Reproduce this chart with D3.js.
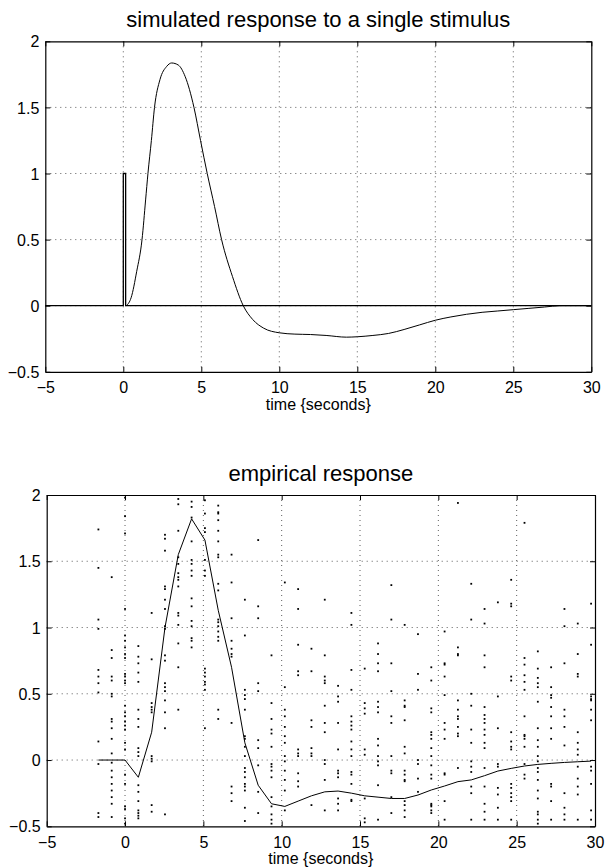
<!DOCTYPE html>
<html>
<head>
<meta charset="utf-8">
<script src="https://cdn.jsdelivr.net/npm/d3@7"></script>
<style>
  body { margin: 0; background: #fff; }
  text { font-family: "Liberation Sans", Arial, Helvetica, sans-serif; fill: #000; }
</style>
</head>
<body>
<div id="chart"></div>
<script>
// axis ticks shared by both panels
const xTicks = [-5, 0, 5, 10, 15, 20, 25, 30];
const yTicks = [-0.5, 0, 0.5, 1, 1.5, 2];

// top panel: stimulus (narrow box at t = 0) and simulated response
const stimTime = [-5, 0, 0, 0.15, 0.15, 30];
const stimValue = [0, 0, 1, 1, 0, 0];
const hrfTime = [0.2, 0.5, 0.86, 1.2, 1.43, 1.58, 1.8, 2.0, 2.35, 2.78, 3.1, 3.53, 3.96, 4.53, 4.95, 5.38,
  5.85, 6.3, 7.0, 7.69, 8.3, 9.0, 10, 11, 12, 13, 14.3, 15, 16, 17, 18, 19, 20, 21, 22, 23, 24, 25, 26, 27, 28, 30];
const hrfValue = [0, 0.06, 0.26, 0.5, 0.8, 1.0, 1.25, 1.5, 1.71, 1.81, 1.836, 1.82, 1.735, 1.5, 1.25, 1.0,
  0.75, 0.5, 0.22, 0, -0.105, -0.17, -0.205, -0.215, -0.218, -0.225, -0.238, -0.235, -0.225, -0.21, -0.18,
  -0.145, -0.11, -0.085, -0.065, -0.05, -0.04, -0.03, -0.02, -0.01, 0, 0];

// bottom panel: sample times, mean response and individual samples per time
const sampleTime = [-1.70, -0.85, 0.00, 0.85, 1.70, 2.55, 3.40, 4.25, 5.10, 5.95, 6.80, 7.65, 8.50, 9.35,
  10.20, 11.05, 11.90, 12.75, 13.60, 14.45, 15.30, 16.15, 17.00, 17.85, 18.70, 19.55, 20.40, 21.25, 22.10,
  22.95, 23.80, 24.65, 25.50, 26.35, 27.20, 28.05, 28.90, 29.75];
const meanValue = [0, 0, 0, -0.13, 0.21, 1.00, 1.55, 1.82, 1.66, 1.13, 0.70, 0.13, -0.19, -0.33,
  -0.35, -0.31, -0.27, -0.24, -0.234, -0.25, -0.27, -0.28, -0.29, -0.29, -0.264, -0.226, -0.196, -0.163, -0.15,
  -0.118, -0.083, -0.063, -0.045, -0.033, -0.025, -0.018, -0.013, -0.008];
const sampleValues = [
  [1.74, 1.45, 1.06, 0.99, 0.68, 0.63, 0.58, 0.51, 0.14, -0.03, -0.40, -0.43],
  [1.38, 0.83, 0.77, 0.63, 0.60, 0.50, 0.48, 0.31, 0.29, 0.24, 0.16, 0.05, -0.02, -0.08, -0.13, -0.18, -0.23, -0.28, -0.33, -0.43],
  [1.98, 1.84, 1.71, 1.14, 0.94, 0.90, 0.85, 0.80, 0.77, 0.65, 0.63, 0.60, 0.58, 0.41, 0.36, 0.33, 0.29, 0.26, 0.23, 0.13, 0.08, -0.11, -0.18, -0.35, -0.37, -0.44, -0.48],
  [0.86, 0.78, 0.73, 0.66, 0.59, 0.38, 0.31, 0.25, 0.09, 0.06, 0.03, -0.19, -0.24, -0.31, -0.38, -0.40, -0.42, -0.44],
  [1.11, 0.76, 0.43, 0.40, 0.38, 0.36, 0.03, 0.01, -0.01, -0.34, -0.39],
  [1.70, 1.67, 1.58, 1.31, 1.29, 1.21, 1.14, 1.01, 0.99, 0.79, 0.75, 0.58, 0.55, 0.52, 0.45, 0.36, 0.24, -0.41],
  [1.97, 1.93, 1.73, 1.53, 1.48, 1.41, 1.38, 1.36, 1.31, 1.11, 1.09, 1.02, 0.88, 0.70, 0.38],
  [1.95, 1.91, 1.83, 1.65, 1.51, 1.48, 1.43, 1.39, 1.22, 1.16, 1.05, 1.01, 0.92, 0.90, 0.85],
  [1.96, 1.86, 1.75, 1.72, 1.51, 1.43, 1.39, 0.69, 0.66, 0.63, 0.59, 0.57, 0.53, 0.24],
  [1.92, 1.87, 1.86, 1.81, 1.73, 1.65, 1.55, 1.53, 1.33, 1.28, 1.06, 1.04, 1.01, 0.97, 0.93, 0.90, 0.38, 0.31],
  [1.55, 1.34, 1.07, 0.90, 0.84, 0.80, 0.78, 0.28, -0.20, -0.25, -0.31],
  [1.21, 0.94, 0.53, 0.49, 0.46, 0.38, 0.18, 0.16, 0.10, 0.03, -0.06, -0.09, -0.13, -0.18, -0.20, -0.23, -0.36, -0.46],
  [1.66, 1.16, 1.07, 0.58, 0.52, 0.15, 0.09, -0.04, -0.24, -0.40],
  [0.79, 0.43, 0.31, 0.23, 0.20, 0.10, -0.03, -0.05, -0.08, -0.13, -0.28, -0.35, -0.41, -0.45, -0.48],
  [1.34, 0.55, 0.38, 0.33, 0.25, 0.18, 0.13, 0.03, -0.01, -0.08, -0.15, -0.23, -0.38],
  [1.29, 1.14, 0.87, 0.67, 0.64, 0.08, 0.05, 0.03, -0.10, -0.16, -0.20],
  [0.84, 0.67, 0.30, 0.25, 0.09, 0.05, 0.03, -0.34],
  [1.21, 0.79, 0.63, 0.60, 0.58, 0.41, 0.28, 0.21, 0.00, -0.03, -0.15, -0.38],
  [0.56, 0.48, 0.44, 0.28, 0.08, -0.08, -0.10, -0.13, -0.29, -0.33, -0.38],
  [1.11, 1.02, 0.68, 0.53, 0.33, 0.29, 0.26, 0.23, 0.14, 0.08, 0.03, -0.09, -0.11, -0.18, -0.30, -0.31],
  [0.69, 0.43, 0.39, 0.35, 0.08, 0.04, -0.29, -0.44, -0.47],
  [0.88, 0.80, 0.73, 0.67, 0.44, 0.40, 0.36, 0.16, 0.11, 0.03, -0.01, -0.04, -0.19, -0.45],
  [1.32, 1.06, 0.73, 0.52, 0.33, 0.28, 0.03, -0.08, -0.10, -0.28, -0.40],
  [1.02, 0.45, 0.41, 0.40, 0.30, 0.10, 0.05, -0.08, -0.11, -0.15, -0.16, -0.31, -0.34, -0.38, -0.43],
  [0.95, 0.65, 0.53, 0.00, -0.03, -0.14, -0.24],
  [0.70, 0.60, 0.39, 0.36, 0.21, 0.19, 0.16, 0.09, 0.03, -0.04, -0.11, -0.14, -0.33, -0.34, -0.35, -0.38, -0.40],
  [0.97, 0.73, 0.72, 0.63, 0.49, 0.28, 0.23, 0.16, -0.10, -0.11, -0.31, -0.45],
  [1.94, 0.85, 0.80, 0.79, 0.45, 0.38, 0.33, 0.31, 0.25, 0.20, 0.18, -0.06],
  [1.33, 1.06, 0.50, 0.41, 0.23, 0.13, -0.01, -0.05, -0.09, -0.20, -0.25, -0.45],
  [1.14, 1.03, 0.79, 0.70, 0.40, 0.34, 0.31, 0.28, 0.23, 0.19, 0.13, 0.09, -0.06, -0.20, -0.33, -0.39, -0.45],
  [1.19, 0.48, 0.24, -0.03, -0.05, -0.21, -0.26, -0.36, -0.45],
  [1.36, 1.18, 1.16, 0.63, 0.60, 0.21, 0.14, 0.10, 0.08, -0.18, -0.21, -0.25, -0.28, -0.31, -0.45],
  [1.79, 0.77, 0.72, 0.64, 0.59, 0.53, 0.33, 0.19, 0.18, 0.16, 0.10, -0.03, -0.11, -0.14],
  [0.82, 0.69, 0.62, 0.58, 0.55, 0.44, 0.24, 0.15, 0.10, 0.03, -0.01, -0.06, -0.09, -0.15, -0.23, -0.29, -0.39, -0.41, -0.45, -0.48],
  [0.70, 0.55, 0.49, 0.47, 0.40, 0.33, 0.24, 0.16, -0.18, -0.20, -0.31, -0.45],
  [1.14, 1.01, 0.73, 0.38, 0.33, 0.25, 0.11, -0.25, -0.36, -0.41, -0.45],
  [1.03, 0.80, 0.65, 0.63, 0.21, 0.13, 0.08, 0.04, -0.05, -0.14, -0.20, -0.26, -0.45],
  [1.18, 0.87, 0.48, 0.46, 0.45, 0.38, 0.30, -0.05, -0.08, -0.18, -0.38, -0.45]
];

const width = 605, height = 867;
const svg = d3.select("#chart").append("svg")
  .attr("width", width)
  .attr("height", height);

const fmt = d => d3.format("")(d).replace("-", "\u2212");

// draw a MATLAB-like axes box with dotted grid and inward ticks
function panel(box, title, xlabel) {
  const x = d3.scaleLinear().domain([-5, 30]).range([box.left, box.right]);
  const y = d3.scaleLinear().domain([-0.5, 2]).range([box.bottom, box.top]);
  const g = svg.append("g");

  // grid
  g.append("g").selectAll("line").data(xTicks.slice(1, -1)).join("line")
    .attr("x1", d => x(d)).attr("x2", d => x(d))
    .attr("y1", box.top).attr("y2", box.bottom)
    .attr("stroke", "#333").attr("stroke-width", 0.8).attr("stroke-dasharray", "1,4");
  g.append("g").selectAll("line").data(yTicks.slice(1, -1)).join("line")
    .attr("y1", d => y(d)).attr("y2", d => y(d))
    .attr("x1", box.left).attr("x2", box.right)
    .attr("stroke", "#333").attr("stroke-width", 0.8).attr("stroke-dasharray", "1,4");

  // axes with inward ticks on all four sides
  const axB = g.append("g").attr("transform", `translate(0,${box.bottom})`)
    .call(d3.axisBottom(x).tickValues(xTicks).tickSizeInner(-5).tickSizeOuter(0).tickPadding(9).tickFormat(fmt));
  const axL = g.append("g").attr("transform", `translate(${box.left},0)`)
    .call(d3.axisLeft(y).tickValues(yTicks).tickSizeInner(-5).tickSizeOuter(0).tickPadding(9).tickFormat(fmt));
  g.append("g").attr("transform", `translate(0,${box.top})`)
    .call(d3.axisTop(x).tickValues(xTicks).tickSizeInner(-5).tickSizeOuter(0).tickFormat(""));
  g.append("g").attr("transform", `translate(${box.right},0)`)
    .call(d3.axisRight(y).tickValues(yTicks).tickSizeInner(-5).tickSizeOuter(0).tickFormat(""));
  g.selectAll(".domain").attr("stroke", "#000").attr("stroke-width", 1.2);
  g.selectAll(".tick line").attr("stroke", "#000");
  g.selectAll(".tick text").style("font-size", "16px").style("font-family", "'Liberation Sans', Arial, sans-serif");
  axL.selectAll(".tick text").attr("x", -6).attr("dy", "0.35em");
  axB.selectAll(".tick text").attr("y", 10);

  g.append("text").attr("x", (box.left + box.right) / 2).attr("y", box.top - 14)
    .attr("text-anchor", "middle").style("font-size", "22px").text(title);
  g.append("text").attr("x", (box.left + box.right) / 2).attr("y", box.bottom + 38)
    .attr("text-anchor", "middle").style("font-size", "16px").text(xlabel);

  return { x, y, g };
}

// ---- top panel
const topPanel = panel({ left: 45.3, right: 591.3, top: 41.3, bottom: 371.8 },
  "simulated response to a single stimulus", "time {seconds}");

topPanel.g.append("path")
  .datum(stimTime.map((t, i) => [t, stimValue[i]]))
  .attr("fill", "none").attr("stroke", "#000").attr("stroke-width", 1.3)
  .attr("d", d3.line().x(d => topPanel.x(d[0])).y(d => topPanel.y(d[1])));

topPanel.g.append("path")
  .datum(hrfTime.map((t, i) => [t, hrfValue[i]]))
  .attr("fill", "none").attr("stroke", "#000").attr("stroke-width", 1)
  .attr("d", d3.line().x(d => topPanel.x(d[0])).y(d => topPanel.y(d[1])).curve(d3.curveMonotoneX));

// ---- bottom panel
const botPanel = panel({ left: 46.7, right: 595, top: 495, bottom: 826.3 },
  "empirical response", "time {seconds}");

const dots = sampleTime.flatMap((t, i) => sampleValues[i].map(v => [t, v]));
botPanel.g.append("g").selectAll("rect").data(dots).join("rect")
  .attr("x", d => botPanel.x(d[0]) - 0.9).attr("y", d => botPanel.y(d[1]) - 0.9)
  .attr("width", 1.8).attr("height", 1.8).attr("fill", "#000");

botPanel.g.append("path")
  .datum(sampleTime.map((t, i) => [t, meanValue[i]]))
  .attr("fill", "none").attr("stroke", "#000").attr("stroke-width", 1)
  .attr("d", d3.line().x(d => botPanel.x(d[0])).y(d => botPanel.y(d[1])));
</script>
</body>
</html>
